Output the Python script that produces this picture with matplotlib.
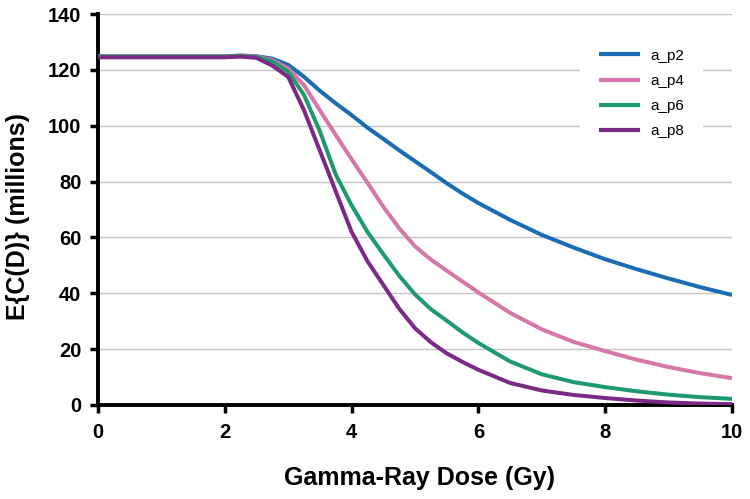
import matplotlib
matplotlib.use("Agg")
import matplotlib.pyplot as plt

plt.rcParams['font.family'] = ['Liberation Sans', 'DejaVu Sans']

dose = [0, 0.5, 1, 1.5, 2, 2.25, 2.5, 2.75, 3, 3.25, 3.5, 3.75, 4, 4.25, 4.5,
        4.75, 5, 5.25, 5.5, 5.75, 6, 6.5, 7, 7.5, 8, 8.5, 9, 9.5, 10]

a_p2 = [124.8, 124.8, 124.8, 124.8, 124.8, 125.1, 124.9, 124.0, 121.8, 117.5,
        112.5, 108.0, 103.8, 99.3, 95.3, 91.2, 87.3, 83.4, 79.4, 75.7, 72.3,
        66.3, 60.9, 56.4, 52.2, 48.6, 45.3, 42.2, 39.4]
a_p4 = [124.8, 124.8, 124.8, 124.8, 124.8, 125.1, 124.8, 123.5, 120.5, 114.5,
        105.5, 96.7, 88.0, 79.6, 71.0, 63.3, 56.8, 52.1, 48.1, 44.2, 40.3,
        33.0, 27.1, 22.6, 19.3, 16.2, 13.6, 11.4, 9.6]
a_p6 = [124.8, 124.8, 124.8, 124.8, 124.8, 125.0, 124.6, 123.0, 119.3, 111.0,
        98.0, 82.5, 71.5, 62.0, 54.0, 46.3, 39.6, 34.3, 30.2, 26.0, 22.2,
        15.6, 11.0, 8.2, 6.4, 4.9, 3.7, 2.8, 2.2]
a_p8 = [124.5, 124.5, 124.5, 124.5, 124.5, 124.75, 124.3, 121.5, 117.5, 105.5,
        91.0, 76.5, 62.0, 51.5, 43.0, 34.5, 27.5, 22.5, 18.5, 15.4, 12.6,
        7.9, 5.2, 3.6, 2.5, 1.6, 0.9, 0.5, 0.3]

series = [("a_p2", a_p2, "#1b6db3"),
          ("a_p4", a_p4, "#d578a9"),
          ("a_p6", a_p6, "#1f9a6f"),
          ("a_p8", a_p8, "#7b2a86")]

x_ticks = [0, 2, 4, 6, 8, 10]
y_ticks = [0, 20, 40, 60, 80, 100, 120, 140]

fig = plt.figure(figsize=(7.5, 4.99), dpi=100)
ax = fig.add_axes([98/750, 1-405/499, (732-98)/750, (405-14)/499])

for name, vals, col in series:
    ax.plot(dose, vals, color=col, lw=2.9, label=name,
            solid_joinstyle='round', solid_capstyle='butt', zorder=3)

ax.set_xlim(0, 10)
ax.set_ylim(0, 140)
ax.set_xticks(x_ticks)
ax.set_yticks(y_ticks)
ax.yaxis.grid(True, color='#c4c4c4', lw=1.0, zorder=0)
ax.set_axisbelow(True)

for s in ['top', 'right']:
    ax.spines[s].set_visible(False)
for s in ['left', 'bottom']:
    ax.spines[s].set_linewidth(2.8)
    ax.spines[s].set_color('black')

ax.tick_params(axis='both', direction='out', length=6, width=2.5,
               labelsize=14.5, colors='black')
ax.tick_params(axis='x', pad=7)
ax.tick_params(axis='y', pad=6)
for lab in ax.get_xticklabels() + ax.get_yticklabels():
    lab.set_fontweight('bold')

ax.set_xlabel("Gamma-Ray Dose (Gy)", fontsize=18, fontweight='bold')
ax.set_ylabel("E{C(D)} (millions)", fontsize=18, fontweight='bold')
ax.xaxis.set_label_coords((420-98)/634, -(466-405)/391)
ax.yaxis.set_label_coords(-(98-30)/634, (405-217)/391)

leg = ax.legend(loc='upper left', bbox_to_anchor=(572/750, 1-22/499),
                bbox_transform=fig.transFigure, fontsize=11, frameon=True,
                fancybox=False, borderpad=1.25, handlelength=2.7,
                handletextpad=0.65, labelspacing=0.73)
leg.get_frame().set_facecolor('white')
leg.get_frame().set_edgecolor('none')
leg.get_frame().set_alpha(1.0)
for h in leg.get_lines():
    h.set_linewidth(3)
leg.set_zorder(5)

fig.savefig("out.png", dpi=100)
